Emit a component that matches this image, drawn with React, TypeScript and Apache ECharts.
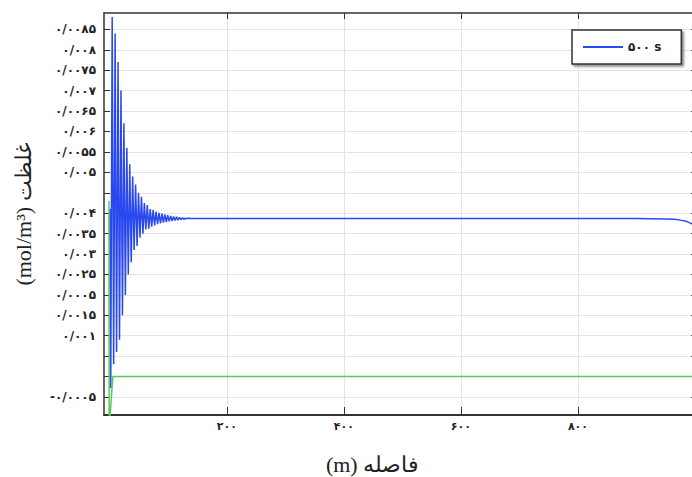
import React, { useEffect, useRef } from "react";
import * as echarts from "echarts";

// Distance (m) and concentration (mol/m3) for t = 500 s
const blueDistance = [
  0, 1.5, 4, 6.5, 9, 11.5, 14, 16.5, 19, 21.5, 24, 26.5, 29, 31.5, 34, 36.5, 39, 41.5,
  44, 46.5, 49, 51.5, 54, 56.5, 59, 61.5, 64, 66.5, 69, 71.5, 74, 76.5, 79, 81.5, 84,
  86.5, 89, 91.5, 94, 96.5, 99, 101.5, 104, 106.5, 109, 111.5, 114, 116.5, 119, 121.5,
  124, 126.5, 129, 131.5, 134, 136.5, 140, 200, 400, 600, 800, 900, 950, 965, 975, 985,
  993, 1000,
];
const blueValues = [
  0.0041, -0.00028, 0.0088, 0.0003, 0.0084, 0.0006, 0.0077, 0.0009, 0.007, 0.0015,
  0.0062, 0.002, 0.0056, 0.0025, 0.0052, 0.0028, 0.0049, 0.0031, 0.0047, 0.0032,
  0.0045, 0.0034, 0.0044, 0.0035, 0.00425, 0.0036, 0.0042, 0.00362, 0.0041, 0.00367,
  0.00408, 0.0037, 0.00404, 0.00373, 0.00401, 0.00375, 0.00399, 0.00377, 0.00397,
  0.00378, 0.00395, 0.0038, 0.00393, 0.00381, 0.00392, 0.00382, 0.00391, 0.00383,
  0.0039, 0.00384, 0.00389, 0.00385, 0.00388, 0.00386, 0.00388, 0.00387, 0.00387,
  0.00387, 0.00387, 0.00387, 0.00387, 0.00387, 0.00386, 0.00385, 0.00383, 0.0038,
  0.00375, 0.0037,
];
const greenDistance = [-1.5, -1.2, 5, 1000];
const greenValues = [0.0043, -0.0013, 0, 0];

const xTickValues = [200, 400, 600, 800];
const xTickLabels = ["۲۰۰", "۴۰۰", "۶۰۰", "۸۰۰"];
const yTickValues = [
  -0.0005, 0, 0.0005, 0.001, 0.0015, 0.002, 0.0025, 0.003, 0.0035, 0.004, 0.0045,
  0.005, 0.0055, 0.006, 0.0065, 0.007, 0.0075, 0.008, 0.0085,
];
const yTickLabels = [
  "-۰/۰۰۰۵", "", "", "۰/۰۰۱", "۰/۰۰۱۵", "۰/۰۰۰۵", "۰/۰۰۲۵", "۰/۰۰۳", "۰/۰۰۳۵",
  "۰/۰۰۴", "", "۰/۰۰۵", "۰/۰۰۵۵", "۰/۰۰۶", "۰/۰۰۶۵", "۰/۰۰۷", "۰/۰۰۷۵", "۰/۰۰۸",
  "۰/۰۰۸۵",
];
const seriesName = "۵۰۰ s";

export default function App() {
  const ref = useRef<HTMLDivElement>(null);
  useEffect(() => {
    if (!ref.current) return;
    const chart = echarts.init(ref.current, null, { renderer: "svg" });
    const axisLine = { show: true, onZero: false, lineStyle: { color: "#333", width: 1.5 } };
    const xLabel = (v: number) => {
      const i = xTickValues.indexOf(v);
      return i >= 0 ? xTickLabels[i] : "";
    };
    const yLabel = (v: number) => {
      let best = -1;
      yTickValues.forEach((t, i) => {
        if (Math.abs(t - v) < 1e-9) best = i;
      });
      return best >= 0 ? yTickLabels[best] : "";
    };
    chart.setOption({
      animation: false,
      backgroundColor: "#fff",
      grid: { left: 104, right: -3, top: 13, bottom: 62, containLabel: false, outerBoundsMode: "none" },
      legend: {
        data: [seriesName],
        left: 572,
        top: 30,
        icon: "rect",
        itemWidth: 40,
        itemHeight: 2,
        padding: [11, 20, 11, 11],
        backgroundColor: "#fff",
        borderColor: "#333",
        borderWidth: 1.5,
        shadowColor: "rgba(0,0,0,0.45)",
        shadowOffsetX: 2,
        shadowOffsetY: 2,
        shadowBlur: 2,
        textStyle: { fontFamily: "DejaVu Sans", fontWeight: "bold", fontSize: 12, color: "#222" },
      },
      xAxis: [
        {
          type: "value",
          min: -10,
          max: 1000,
          name: "(m) فاصله",
          nameLocation: "middle",
          nameGap: 38,
          nameTextStyle: {
            fontFamily: "Liberation Serif",
            fontSize: 22,
            color: "#222",
            padding: [0, 54, 0, 0],
          },
          axisLine: { show: true, onZero: false, lineStyle: { color: "#333", width: 2 } },
          axisTick: { show: true, inside: true, length: 8, customValues: xTickValues, lineStyle: { color: "#333" } },
          axisLabel: {
            customValues: xTickValues,
            formatter: xLabel,
            fontFamily: "DejaVu Sans",
            fontWeight: "bold",
            fontSize: 11,
            color: "#222",
            margin: 6,
          },
          splitLine: { show: true, lineStyle: { color: "#e4e4e4", width: 1 } },
        },
        {
          type: "value",
          position: "top",
          min: -10,
          max: 1000,
          axisLine,
          axisTick: { show: true, inside: true, length: 6, customValues: xTickValues, lineStyle: { color: "#333" } },
          axisLabel: { show: false },
          splitLine: { show: false },
        },
      ],
      yAxis: [
        {
          type: "value",
          min: -0.00094,
          max: 0.0089,
          name: "(mol/m³) غلظت",
          nameLocation: "middle",
          nameGap: 70,
          nameTextStyle: { fontFamily: "Liberation Serif", fontSize: 22, color: "#222" },
          axisLine,
          axisTick: { show: true, inside: true, length: 6, customValues: yTickValues, lineStyle: { color: "#333" } },
          axisLabel: {
            customValues: yTickValues,
            formatter: yLabel,
            fontFamily: "DejaVu Sans",
            fontWeight: "bold",
            fontSize: 12,
            color: "#222",
            margin: 8,
          },
          splitLine: { show: true, lineStyle: { color: "#e4e4e4", width: 1 } },
        },
        {
          type: "value",
          position: "right",
          min: -0.00094,
          max: 0.0089,
          axisLine,
          axisTick: { show: true, inside: true, length: 4, customValues: yTickValues, lineStyle: { color: "#555" } },
          axisLabel: { show: false },
          splitLine: { show: false },
        },
      ],
      series: [
        {
          name: seriesName,
          type: "line",
          showSymbol: false,
          clip: true,
          data: blueDistance.map((d, i) => [d, blueValues[i]]),
          lineStyle: { color: "#2a48f0", width: 1.5 },
          itemStyle: { color: "#2a48f0" },
        },
        {
          name: "green",
          type: "line",
          showSymbol: false,
          clip: true,
          data: greenDistance.map((d, i) => [d, greenValues[i]]),
          lineStyle: { color: "#5cc85c", width: 1.5 },
          itemStyle: { color: "#5cc85c" },
        },
      ],
    });
    return () => chart.dispose();
  }, []);
  return <div ref={ref} style={{ width: 692, height: 477, position: "absolute", left: 0, top: 0 }} />;
}
